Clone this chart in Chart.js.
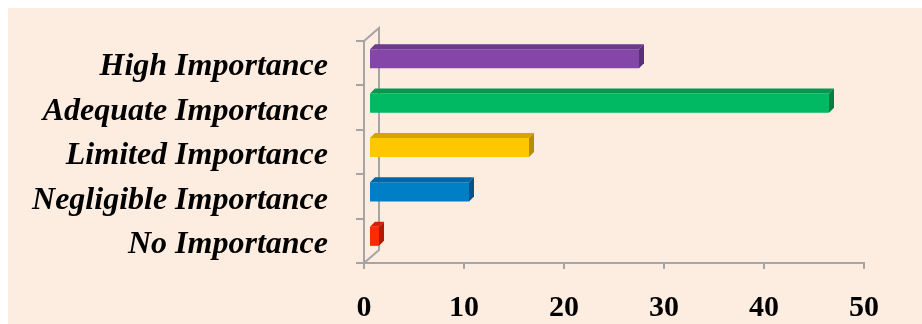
<!DOCTYPE html>
<html>
<head>
<meta charset="utf-8">
<script src="https://cdn.jsdelivr.net/npm/chart.js@4/dist/chart.umd.min.js"></script>
<style>
  html, body { margin: 0; padding: 0; background: #ffffff; }
  #bg { position: absolute; left: 8px; top: 8px; width: 914px; height: 316px; background: #FDEDE1; }
  #wrap { position: absolute; left: 0; top: 0; width: 922px; height: 324px; }
</style>
</head>
<body>
<div id="bg"></div>
<div id="wrap"><canvas id="c" width="922" height="324"></canvas></div>
<script>
const categories = ['High Importance', 'Adequate Importance', 'Limited Importance', 'Negligible Importance', 'No Importance'];
const values = [27, 46, 16, 10, 1];
const xTicks = [0, 10, 20, 30, 40, 50];
const frontColors = ['#8447A8', '#00B962', '#FFC700', '#007EC6', '#FF2A00'];
const topColors   = ['#6C3A8E', '#00994F', '#D4A500', '#0067A6', '#D42000'];
const sideColors  = ['#5A2E78', '#007F40', '#B38E00', '#00548A', '#B01A00'];

const AXIS = '#A5A5A5';
const DEPTH_X = 15, DEPTH_Y = 13; // wall depth
const BAR_D = 5;                  // bar depth / offset

const walls = {
  id: 'walls',
  beforeDatasetsDraw(chart) {
    const { ctx, chartArea: a } = chart;
    ctx.save();
    ctx.strokeStyle = AXIS;
    ctx.lineWidth = 2;
    ctx.beginPath();
    ctx.moveTo(a.left, a.top);
    ctx.lineTo(a.left + DEPTH_X, a.top - DEPTH_Y);
    ctx.lineTo(a.left + DEPTH_X, a.bottom - DEPTH_Y);
    ctx.lineTo(a.left, a.bottom);
    ctx.stroke();
    ctx.restore();
    ctx.save();
    ctx.translate(BAR_D, -BAR_D + 0.5);
  },
  afterDatasetsDraw(chart) {
    const { ctx } = chart;
    const meta = chart.getDatasetMeta(0);
    meta.data.forEach((el, i) => {
      const x0 = Math.min(el.base, el.x), x1 = Math.max(el.base, el.x);
      const t = el.y - el.height / 2, b = el.y + el.height / 2;
      ctx.fillStyle = topColors[i];
      ctx.beginPath();
      ctx.moveTo(x0, t); ctx.lineTo(x1, t); ctx.lineTo(x1 + BAR_D, t - BAR_D); ctx.lineTo(x0 + BAR_D, t - BAR_D);
      ctx.closePath(); ctx.fill();
      ctx.fillStyle = sideColors[i];
      ctx.beginPath();
      ctx.moveTo(x1, t); ctx.lineTo(x1 + BAR_D, t - BAR_D); ctx.lineTo(x1 + BAR_D, b - BAR_D); ctx.lineTo(x1, b);
      ctx.closePath(); ctx.fill();
    });
    ctx.restore();
  }
};

new Chart(document.getElementById('c'), {
  type: 'bar',
  data: {
    labels: categories,
    datasets: [{
      data: values,
      backgroundColor: frontColors,
      borderWidth: 0,
      barPercentage: 0.86,
      categoryPercentage: 0.5,
      clip: false
    }]
  },
  options: {
    indexAxis: 'y',
    responsive: false,
    animation: false,
    events: [],
    layout: { padding: { left: 0, top: 41, right: 58, bottom: 0 } },
    plugins: { legend: { display: false }, tooltip: { enabled: false } },
    scales: {
      x: {
        min: 0, max: 50,
        afterBuildTicks(scale) { scale.ticks = xTicks.map(v => ({ value: v })); },
        afterFit(scale) { scale.height = 61; scale.paddingLeft = 0; scale.paddingRight = 0; },
        border: { display: true, color: AXIS, width: 2 },
        grid: { display: true, drawOnChartArea: false, drawTicks: true, tickLength: 6, color: AXIS, lineWidth: 2 },
        ticks: { color: '#000', padding: 21, font: { family: '"Liberation Serif", "Times New Roman", serif', size: 30, weight: 'bold' } }
      },
      y: {
        afterFit(scale) { scale.width = 364; scale.paddingTop = 0; scale.paddingBottom = 0; },
        border: { display: true, color: AXIS, width: 2 },
        grid: { display: true, offset: true, drawOnChartArea: false, drawTicks: true, tickLength: 8, color: AXIS, lineWidth: 2 },
        ticks: { color: '#000', padding: 28, labelOffset: 4, font: { family: '"Liberation Serif", "Times New Roman", serif', size: 32, weight: 'bold', style: 'italic' } }
      }
    }
  },
  plugins: [walls]
});
</script>
</body>
</html>
